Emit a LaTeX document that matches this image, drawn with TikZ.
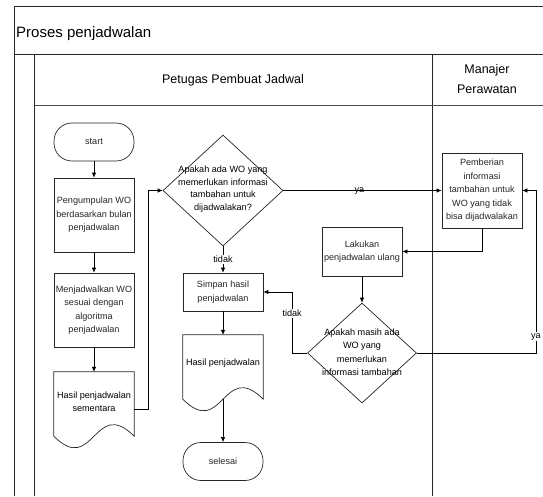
\documentclass[tikz,border=0pt]{standalone}
\usepackage{fontspec}
\setmainfont{Liberation Sans}
\usetikzlibrary{shapes.geometric,arrows.meta,calc}
\begin{document}
\begin{tikzpicture}[x=1pt,y=-1pt,
  frame/.style={line width=0.9pt, black!85},
  shapeline/.style={line width=0.7pt, black!85},
  txt/.style={font=\fontsize{9.1}{13.5}\selectfont, align=center, inner sep=0pt},
  proc/.style={draw, shapeline, txt, minimum width=80, minimum height=#1},
  term/.style={draw, shapeline, txt, rounded corners=18, minimum width=80, minimum height=38},
  docbox/.style={inner sep=0pt, minimum width=80, minimum height=64},
  decision/.style={draw, shapeline, diamond, inner sep=0pt},
  flow/.style={line width=0.7pt, black, -{Latex[length=5pt,width=4.5pt]}},
  lbl/.style={font=\fontsize{9.1}{11}\selectfont, inner sep=1pt}
]
\useasboundingbox (0,0) rectangle (543,496);

% pool frame, title bar and lanes
\draw[frame] (543,6) -- (14.7,6) -- (14.7,496);
\draw[frame] (14.7,54) -- (543,54);
\draw[frame] (34.5,54) -- (34.5,496);
\draw[frame] (432,54) -- (432,496);
\draw[line width=0.8pt, black!70] (34.5,105) -- (543,105);

\node[anchor=base west, inner sep=0pt, font=\fontsize{15}{18}\selectfont] (title) at (16,37) {Proses penjadwalan};
\node[inner sep=0pt, font=\fontsize{12.5}{20}\selectfont] (lane1) at (233,80) {Petugas Pembuat Jadwal};
\node[inner sep=0pt, align=center, font=\fontsize{12.5}{20}\selectfont] (lane2) at (487,79) {Manajer\\Perawatan};

% left column of the lane
\node[term] (start) at (94,142) {start};
\node[proc=74] (box1) at (94,215) {Pengumpulan WO\\berdasarkan bulan\\penjadwalan};
\node[proc=74] (box2) at (94,310) {Menjadwalkan WO\\sesuai dengan\\algoritma\\penjadwalan};
\node[docbox] (doc1) at (94,404) {};
\draw[shapeline] (doc1.north west) -- (doc1.north east) -- (doc1.south east)
  .. controls +(-40,-40) and +(40,40) .. (doc1.south west) -- cycle;
\node[txt] (doc1txt) at (94,401.5) {Hasil penjadwalan\\sementara};
\coordinate (doc1out) at ($(doc1.east)+(0,5)$);

% middle column
\node[decision, minimum width=120, minimum height=111] (d1) at (223,190.5) {};
\node[txt, font=\fontsize{9.1}{12.5}\selectfont] (d1txt) at (223,189) {Apakah ada WO yang\\memerlukan informasi\\tambahan untuk\\dijadwalakan?};
\node[proc=38] (simpan) at (223,292) {Simpan hasil\\penjadwalan};
\node[docbox] (doc2) at (223,367) {};
\draw[shapeline] (doc2.north west) -- (doc2.north east) -- (doc2.south east)
  .. controls +(-40,-40) and +(40,40) .. (doc2.south west) -- cycle;
\node[txt] (doc2txt) at (223,363) {Hasil penjadwalan};
\node[term] (selesai) at (223,461.5) {selesai};

\node[proc=49] (lakukan) at (362,251.5) {Lakukan\\penjadwalan ulang};
\node[decision, minimum width=109, minimum height=100] (d2) at (362,353) {};
\node[txt] (d2txt) at (362,352) {Apakah masih ada\\WO yang\\memerlukan\\informasi tambahan};

% manager lane
\node[proc=75] (pemb) at (482,190.5) {Pemberian\\informasi\\tambahan untuk\\WO yang tidak\\bisa dijadwalakan};

% connectors
\draw[flow] (start) -- (box1);
\draw[flow] (box1) -- (box2);
\draw[flow] (box2) -- (doc1);
\draw[flow] (doc1out) -- ++(14,0) |- (d1.west);
\draw[flow] (d1.south) -- node[lbl, fill=white] {tidak} (simpan.north);
\draw[flow] (simpan) -- (doc2);
\draw[flow] (doc2.south) -- (selesai.north);
\draw[flow] (d1.east) -- node[lbl, pos=0.48] {ya} (pemb.west);
\draw[flow] (pemb.south) |- (lakukan.east);
\draw[flow] (lakukan.south) -- (d2.north);
\coordinate (tleft) at ($(d2.west)+(-15,0)$);
\draw[flow] (d2.west) -- (tleft) -- node[lbl, pos=0.65, fill=white] {tidak} (tleft |- simpan.east) -- (simpan.east);
\coordinate (yright) at ($(d2.east)+(119,0)$);
\draw[flow] (d2.east) -- (yright) -- node[lbl, pos=0.1, fill=white] {ya} (yright |- pemb.east) -- (pemb.east);
\end{tikzpicture}
\end{document}
